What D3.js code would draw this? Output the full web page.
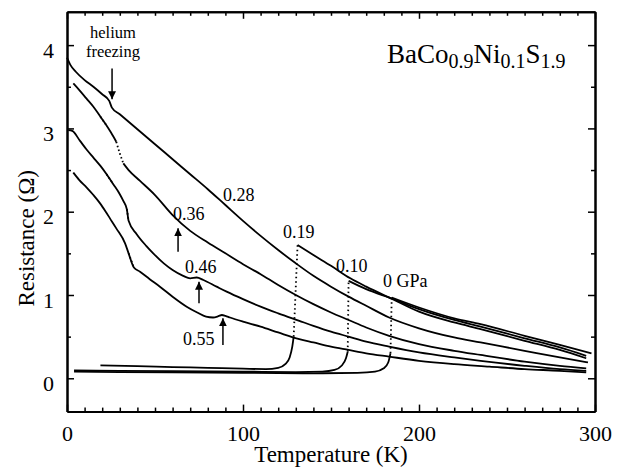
<!DOCTYPE html>
<html>
<head>
<meta charset="utf-8">
<script src="https://cdn.jsdelivr.net/npm/d3@7"></script>
<style>
  html, body { margin: 0; padding: 0; background: #fff; }
  svg { display: block; }
</style>
</head>
<body>
<div id="chart"></div>
<script>
// R(T) of BaCo0.9Ni0.1S1.9 at several pressures (GPa)

// insulating curves
const t028 = [0, 2, 5, 10, 15, 20, 24, 25.5, 30, 40, 50, 60, 70, 80, 90, 100, 110, 120, 130, 140, 150, 160, 170, 183, 200, 220, 235, 260, 280, 296];
const r028 = [3.85, 3.76, 3.68, 3.58, 3.50, 3.41, 3.33, 3.25, 3.17, 2.99, 2.81, 2.63, 2.45, 2.27, 2.08, 1.89, 1.71, 1.54, 1.38, 1.23, 1.10, 0.98, 0.87, 0.73, 0.60, 0.49, 0.43, 0.33, 0.25, 0.19];

const t036 = [3.6, 7, 11, 15, 19, 22, 25, 28, 30, 32, 35, 41.5, 50, 60, 70, 80, 90, 100, 110, 120, 130, 140, 150, 160, 170, 183, 200, 220, 235, 260, 280, 295];
const r036 = [3.54, 3.46, 3.36, 3.26, 3.14, 3.05, 2.95, 2.84, 2.70, 2.58, 2.50, 2.37, 2.20, 1.96, 1.77, 1.63, 1.50, 1.37, 1.25, 1.12, 1.00, 0.89, 0.79, 0.70, 0.61, 0.51, 0.41, 0.33, 0.28, 0.20, 0.15, 0.12];

const t046 = [0.7, 3, 7.4, 11, 15, 19, 22.5, 26.3, 30, 32, 34, 35, 39.6, 45, 49, 55, 60, 66, 70, 73.7, 77.5, 85, 90.7, 100, 110, 120, 132, 140, 150, 160, 170, 183, 200, 220, 235, 260, 280, 295];
const r046 = [2.98, 2.97, 2.85, 2.75, 2.65, 2.55, 2.45, 2.33, 2.21, 2.13, 2.03, 1.89, 1.73, 1.59, 1.50, 1.38, 1.30, 1.23, 1.20, 1.21, 1.18, 1.10, 1.04, 0.95, 0.86, 0.78, 0.69, 0.63, 0.56, 0.50, 0.44, 0.38, 0.31, 0.25, 0.21, 0.15, 0.11, 0.09];

const t055 = [3.6, 7, 11.2, 15, 18.8, 22, 24.4, 28, 33, 35, 38, 41.5, 47, 52.8, 60, 68, 74, 79, 83, 86, 88, 90, 92.6, 100, 110, 120, 132, 140, 150, 160, 170, 183, 200, 220, 240, 260, 280, 295];
const r055 = [2.47, 2.38, 2.29, 2.20, 2.10, 2.00, 1.92, 1.80, 1.62, 1.50, 1.33, 1.28, 1.19, 1.10, 0.98, 0.86, 0.79, 0.74, 0.73, 0.745, 0.76, 0.75, 0.73, 0.68, 0.62, 0.55, 0.47, 0.43, 0.38, 0.34, 0.30, 0.26, 0.21, 0.17, 0.14, 0.11, 0.09, 0.07];

// helium-freezing stretches drawn dotted [T from, T to]
const dots036 = [[19, 22], [28, 32]];
const dots046 = [[22.5, 26.3], [34, 35]];
const dots055 = [[35, 38]];

// metallic curves: low-T branch, dotted jump, high-T branch
const t019lo = [19, 40, 60, 80, 100, 113, 120, 124, 126.5, 128, 128.8];
const r019lo = [0.155, 0.145, 0.135, 0.125, 0.115, 0.11, 0.125, 0.17, 0.25, 0.38, 0.50];
const t019hi = [131, 140, 150, 161, 170, 185, 200, 220, 235, 260, 280, 295];
const r019hi = [1.60, 1.48, 1.35, 1.20, 1.10, 0.95, 0.80, 0.67, 0.59, 0.45, 0.34, 0.24];

const t010lo = [4, 30, 60, 100, 130, 145, 152, 156, 158.5, 159.5];
const r010lo = [0.095, 0.09, 0.085, 0.08, 0.075, 0.08, 0.10, 0.15, 0.24, 0.32];
const t010hi = [160, 170, 185, 200, 220, 235, 260, 280, 295];
const r010hi = [1.17, 1.07, 0.955, 0.83, 0.70, 0.62, 0.48, 0.37, 0.27];

const t000lo = [4, 30, 60, 100, 140, 165, 175, 180, 182.5, 183.8];
const r000lo = [0.08, 0.075, 0.07, 0.065, 0.06, 0.065, 0.08, 0.12, 0.19, 0.30];
const t000hi = [184.5, 200, 220, 235, 260, 280, 298];
const r000hi = [0.97, 0.85, 0.72, 0.65, 0.51, 0.40, 0.30];

// pressure labels [text, T, R]
const pLabels = [["0.28", 88.6, 2.13], ["0.36", 60.2, 1.90], ["0.46", 67.0, 1.26], ["0.55", 65.9, 0.40],
                 ["0.19", 122.7, 1.68], ["0.10", 152.8, 1.28], ["0 GPa", 179.5, 1.10]];
// arrows [T, R from, R to]
const arrows = [[25.6, 3.72, 3.35], [63.1, 1.52, 1.80], [75.0, 0.90, 1.16], [88.6, 0.40, 0.72]];

const xMajor = [0, 100, 200, 300];
const yMajor = [0, 1, 2, 3, 4];

const FONT = '"Liberation Serif", "Times New Roman", "DejaVu Serif", serif';
const W = 620, H = 474;
const svg = d3.select('#chart').append('svg').attr('width', W).attr('height', H)
    .attr('font-family', FONT);

const x = d3.scaleLinear().domain([0, 300]).range([67, 595]);
const y = d3.scaleLinear().domain([-0.4, 4.4]).range([411.6, 11.8]);

const zip = (ts, rs) => ts.map((t, i) => [t, rs[i]]);
const line = d3.line().x(d => x(d[0])).y(d => y(d[1])).curve(d3.curveMonotoneX);

function drawCurve(pts, gaps) {
    gaps = gaps || [];
    const inGap = t => gaps.some(g => t > g[0] && t < g[1]);
    svg.append('path')
        .attr('d', line.defined(d => !inGap(d[0]))(pts))
        .attr('fill', 'none').attr('stroke', '#000').attr('stroke-width', 1.8);
    line.defined(() => true);
    gaps.forEach(g => {
        const seg = pts.filter(d => d[0] >= g[0] && d[0] <= g[1]);
        svg.append('path').attr('d', line(seg))
            .attr('fill', 'none').attr('stroke', '#000').attr('stroke-width', 1.8)
            .attr('stroke-dasharray', '1.5,2.5');
    });
}

function drawJump(a, b) {
    svg.append('path').attr('d', d3.line().x(d => x(d[0])).y(d => y(d[1]))([a, b]))
        .attr('fill', 'none').attr('stroke', '#000').attr('stroke-width', 1.8)
        .attr('stroke-dasharray', '1.5,3');
}

drawCurve(zip(t028, r028));
drawCurve(zip(t036, r036), dots036);
drawCurve(zip(t046, r046), dots046);
drawCurve(zip(t055, r055), dots055);

[[t019lo, r019lo, t019hi, r019hi], [t010lo, r010lo, t010hi, r010hi], [t000lo, r000lo, t000hi, r000hi]]
    .forEach(([tl, rl, th, rh]) => {
        const lo = zip(tl, rl), hi = zip(th, rh);
        drawCurve(lo);
        drawJump(lo[lo.length - 1], hi[0]);
        drawCurve(hi);
    });

// axes, ticks pointing inwards
function styleAxis(g) {
    g.attr('font-family', FONT);
    g.select('.domain').attr('stroke-width', 2);
    g.selectAll('.tick line').attr('stroke-width', 1.5);
    g.selectAll('text').attr('font-size', 22).attr('fill', '#000');
}
const minorX = d3.range(0, 301, 10).filter(v => v % 100 !== 0);
const minorY = [0.5, 1.5, 2.5, 3.5];

svg.append('g').attr('transform', `translate(0,${y(-0.4)})`)
    .call(d3.axisBottom(x).tickValues(xMajor).tickSize(-7).tickSizeOuter(0).tickPadding(14).tickFormat(d3.format('d')))
    .call(styleAxis);
svg.append('g').attr('transform', `translate(0,${y(-0.4)})`)
    .call(d3.axisBottom(x).tickValues(minorX).tickSize(-4).tickSizeOuter(0).tickFormat(''))
    .call(styleAxis);
svg.append('g').attr('transform', `translate(0,${y(4.4)})`)
    .call(d3.axisTop(x).tickValues(xMajor).tickSize(-7).tickSizeOuter(0).tickFormat(''))
    .call(styleAxis);
svg.append('g').attr('transform', `translate(0,${y(4.4)})`)
    .call(d3.axisTop(x).tickValues(minorX).tickSize(-4).tickSizeOuter(0).tickFormat(''))
    .call(styleAxis);
svg.append('g').attr('transform', `translate(${x(0)},0)`)
    .call(d3.axisLeft(y).tickValues(yMajor).tickSize(-7).tickSizeOuter(0).tickPadding(13).tickFormat(d3.format('d')))
    .call(styleAxis)
    .selectAll('text').attr('dy', '0.55em');
svg.append('g').attr('transform', `translate(${x(0)},0)`)
    .call(d3.axisLeft(y).tickValues(minorY).tickSize(-4).tickSizeOuter(0).tickFormat(''))
    .call(styleAxis);
svg.append('g').attr('transform', `translate(${x(300)},0)`)
    .call(d3.axisRight(y).tickValues(yMajor).tickSize(-7).tickSizeOuter(0).tickFormat(''))
    .call(styleAxis);
svg.append('g').attr('transform', `translate(${x(300)},0)`)
    .call(d3.axisRight(y).tickValues(minorY).tickSize(-4).tickSizeOuter(0).tickFormat(''))
    .call(styleAxis);

// axis titles
svg.append('text').attr('x', (x(0) + x(300)) / 2).attr('y', 462)
    .attr('text-anchor', 'middle').attr('font-size', 23).text('Temperature (K)');
svg.append('text').attr('transform', `translate(34,${y(1.68)}) rotate(-90)`)
    .attr('text-anchor', 'middle').attr('font-size', 23).text('Resistance (Ω)');

// compound name
const title = svg.append('text').attr('x', x(181.8)).attr('y', y(3.785)).attr('font-size', 27);
[['BaCo', false], ['0.9', true], ['Ni', false], ['0.1', true], ['S', false], ['1.9', true]].forEach(([s, sub], i) => {
    title.append('tspan').text(s)
        .attr('font-size', sub ? 20 : 27)
        .attr('dy', i === 0 ? 0 : (sub ? 5 : -5));
});

// annotations
svg.append('text').attr('x', x(26.1)).attr('y', y(4.08)).attr('text-anchor', 'middle')
    .attr('font-size', 16.5).text('helium');
svg.append('text').attr('x', x(26.1)).attr('y', y(3.857)).attr('text-anchor', 'middle')
    .attr('font-size', 16.5).text('freezing');

svg.selectAll('.plabel').data(pLabels).join('text')
    .attr('class', 'plabel')
    .attr('x', d => x(d[1])).attr('y', d => y(d[2]))
    .attr('font-size', 18).text(d => d[0]);

svg.append('defs').append('marker')
    .attr('id', 'head').attr('viewBox', '0 0 10 10').attr('refX', 10).attr('refY', 5)
    .attr('markerWidth', 8).attr('markerHeight', 8).attr('markerUnits', 'userSpaceOnUse')
    .attr('orient', 'auto')
    .append('path').attr('d', 'M0,0 L10,5 L0,10 Z').attr('fill', '#000');

svg.selectAll('.arrow').data(arrows).join('line')
    .attr('class', 'arrow')
    .attr('x1', d => x(d[0])).attr('x2', d => x(d[0]))
    .attr('y1', d => y(d[1])).attr('y2', d => y(d[2]))
    .attr('stroke', '#000').attr('stroke-width', 1.5)
    .attr('marker-end', 'url(#head)');
</script>
</body>
</html>
